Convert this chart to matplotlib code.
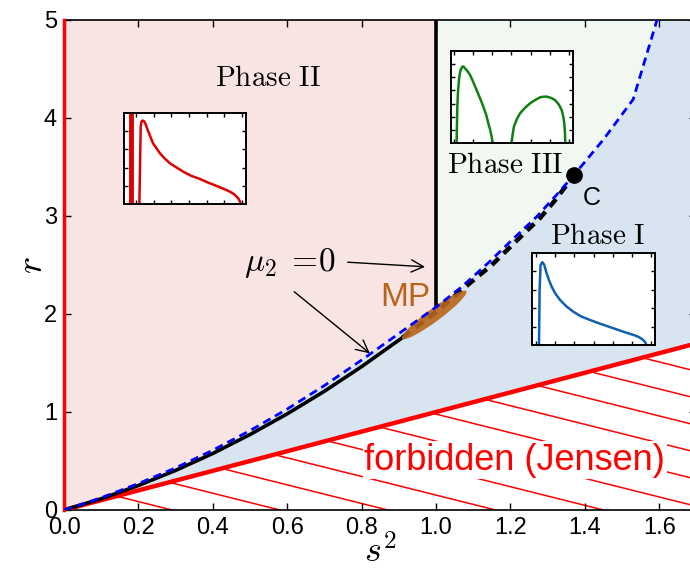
import numpy as np
import matplotlib
matplotlib.use('Agg')
import matplotlib.pyplot as plt
from matplotlib.patches import Ellipse, Polygon
from matplotlib.transforms import ScaledTranslation

plt.rcParams['font.family'] = ['Liberation Sans', 'DejaVu Sans']
plt.rcParams['mathtext.fontset'] = 'cm'

# ---------------- data ----------------
# blue dashed boundary (upper)
blue_x = np.array([0.0, 0.1, 0.2, 0.3, 0.4, 0.5, 0.6, 0.7, 0.8, 0.9, 1.0, 1.07, 1.14, 1.2,
                   1.27, 1.33, 1.38, 1.45, 1.53, 1.594])
blue_y = np.array([0.0, 0.125, 0.27, 0.43, 0.61, 0.81, 1.03, 1.27, 1.53, 1.8, 2.07, 2.28, 2.52, 2.74,
                   2.99, 3.24, 3.46, 3.78, 4.19, 5.0])
# black mu2=0 curve, solid part and dashed part
black_solid_x = [0.0, 0.1, 0.2, 0.3, 0.4, 0.5, 0.6, 0.7, 0.8, 0.91]
black_solid_y = [0.0, 0.115, 0.25, 0.404, 0.577, 0.77, 0.981, 1.212, 1.463, 1.76]
black_dash_x = [0.91, 1.0, 1.08, 1.15, 1.22, 1.28, 1.32, 1.36]
black_dash_y = [1.76, 2.02, 2.28, 2.5, 2.76, 2.98, 3.16, 3.36]
# vertical boundary at s^2 = 1
vert_x = [1.0, 1.0]
vert_y = [2.07, 5.0]
# Jensen bound r = s^2
jensen_x = [0.0, 1.7]
jensen_y = [0.0, 1.7]
# critical point C
c_point = (1.37, 3.42)
# MP ellipse
mp_center = (0.995, 1.99)

# insets (normalized inset coordinates)
ph2_spike_x = 0.055
ph2_x = [0.126, 0.137, 0.142, 0.15, 0.16, 0.172, 0.2, 0.238, 0.295, 0.33, 0.377, 0.42, 0.486, 0.55,
         0.623, 0.69, 0.76, 0.82, 0.869, 0.9, 0.924, 0.94, 0.951, 0.956]
ph2_y = [0.0, 0.85, 0.90, 0.916, 0.915, 0.894, 0.795, 0.667, 0.557, 0.505, 0.447, 0.41, 0.355, 0.31,
         0.275, 0.235, 0.198, 0.165, 0.135, 0.11, 0.08, 0.055, 0.026, 0.0]

ph1_x = [0.057, 0.062, 0.07, 0.084, 0.1, 0.119, 0.14, 0.16, 0.19, 0.228, 0.28, 0.336, 0.4, 0.472,
         0.54, 0.607, 0.675, 0.742, 0.8, 0.851, 0.88, 0.905, 0.922, 0.932]
ph1_y = [0.0, 0.6, 0.87, 0.9, 0.87, 0.78, 0.70, 0.634, 0.56, 0.49, 0.42, 0.362, 0.31, 0.272,
         0.238, 0.207, 0.176, 0.145, 0.12, 0.098, 0.078, 0.054, 0.03, 0.0]

ph3a_x = [0.046, 0.052, 0.058, 0.068, 0.078, 0.093, 0.104, 0.115, 0.13, 0.156, 0.18, 0.21, 0.24,
          0.265, 0.29, 0.306, 0.322, 0.333, 0.341]
ph3a_y = [0.0, 0.395, 0.57, 0.72, 0.79, 0.83, 0.83, 0.81, 0.79, 0.74, 0.67, 0.576, 0.48,
          0.395, 0.3, 0.214, 0.14, 0.069, 0.0]
ph3b_x = [0.497, 0.505, 0.516, 0.54, 0.566, 0.605, 0.648, 0.69, 0.73, 0.757, 0.784, 0.82, 0.852,
          0.883, 0.907, 0.92, 0.929, 0.934, 0.937]
ph3b_y = [0.0, 0.09, 0.178, 0.26, 0.322, 0.38, 0.431, 0.467, 0.496, 0.503, 0.504, 0.49, 0.467,
          0.42, 0.359, 0.29, 0.214, 0.12, 0.0]

x_ticks = [0.0, 0.2, 0.4, 0.6, 0.8, 1.0, 1.2, 1.4, 1.6]
x_ticklabels = ['0.0', '0.2', '0.4', '0.6', '0.8', '1.0', '1.2', '1.4', '1.6']
y_ticks = [0, 1, 2, 3, 4, 5]
y_ticklabels = ['0', '1', '2', '3', '4', '5']

# ---------------- figure ----------------
fig = plt.figure(figsize=(6.9, 5.74), dpi=100)
ax = fig.add_axes([0.0928, 0.1115, 0.9165, 0.8537])
ax.set_xlim(0, 1.7)
ax.set_ylim(0, 5)

pink = '#f9e4e4'
green = '#f1f8f1'
lblue = '#d8e5f1'

m1 = blue_x <= 1.0
ax.fill_between(blue_x[m1], blue_y[m1], 5, color=pink, lw=0, zorder=0)
m2 = blue_x >= 1.0
gx = np.concatenate([blue_x[m2], [1.0]])
gy = np.concatenate([blue_y[m2], [5.0]])
ax.fill(gx, gy, color=green, lw=0, zorder=0)
px = np.concatenate([[jensen_x[1], jensen_x[1]], blue_x[::-1]])
py = np.concatenate([[jensen_y[1], 5.0], blue_y[::-1]])
ax.fill(px, py, color=lblue, lw=0, zorder=0)

# hatching of forbidden region
tri = Polygon([(0, 0), (1.7, 1.7), (1.7, 0)], closed=True, transform=ax.transData,
              facecolor='none', edgecolor='none')
ax.add_patch(tri)
for c in np.arange(0.29, 3.8, 0.29):
    ln, = ax.plot([0, 4], [0.95 * c, 0.95 * (c - 4)], color='red', lw=1.1, zorder=1)
    ln.set_clip_path(tri)

ax.plot(jensen_x, jensen_y, color='red', lw=3.2, zorder=3)
ax.plot([0, 0], [0, 5], color='red', lw=2.5, zorder=3, clip_on=False)

ax.plot(black_solid_x, black_solid_y, color='black', lw=2.6, zorder=4)
ax.plot(black_dash_x, black_dash_y, color='black', lw=3.2, ls=(0, (2.2, 1.5)), zorder=4)
ax.plot(vert_x, vert_y, color='black', lw=2.6, zorder=4)
ax.plot(blue_x, blue_y, color='blue', lw=2.0, ls=(0, (3.0, 1.9)), zorder=5)

mp_col = '#b8651b'
ell = Ellipse((0, 0), 0.80, 0.13, angle=36.5, facecolor=mp_col, edgecolor='none', alpha=0.9,
              transform=fig.dpi_scale_trans + ScaledTranslation(mp_center[0], mp_center[1], ax.transData),
              zorder=4.5)
ax.add_patch(ell)

ax.plot([c_point[0]], [c_point[1]], 'o', color='black', ms=11, zorder=6)

# texts
ax.text(0.548, 4.41, r'$\mathrm{Phase\ II}$', fontsize=21, ha='center', va='center')
ax.text(1.186, 3.52, r'$\mathrm{Phase\ III}$', fontsize=21, ha='center', va='center', zorder=7)
ax.text(1.435, 2.80, r'$\mathrm{Phase\ I}$', fontsize=21, ha='center', va='center')
ax.text(1.419, 3.18, 'C', fontsize=18, ha='center', va='center')
ax.text(0.917, 2.17, 'MP', fontsize=24, ha='center', va='center', color=mp_col)
ax.text(1.212, 0.51, 'forbidden (Jensen)', fontsize=26, ha='center', va='center', color='red',
        bbox=dict(facecolor='white', edgecolor='none', pad=1), zorder=6)
ax.text(0.608, 2.52, r'$\mu_2\;{=}\!0$', fontsize=24, ha='center', va='center')
ax.annotate('', xy=(0.978, 2.48), xytext=(0.755, 2.53),
            arrowprops=dict(arrowstyle='->', lw=1.0, color='black', mutation_scale=22))
ax.annotate('', xy=(0.828, 1.58), xytext=(0.613, 2.245),
            arrowprops=dict(arrowstyle='->', lw=1.0, color='black', mutation_scale=22))

ax.set_xticks(x_ticks)
ax.set_xticklabels(x_ticklabels)
ax.set_yticks(y_ticks)
ax.set_yticklabels(y_ticklabels)
ax.tick_params(direction='in', top=True, right=True, length=5, width=1, labelsize=17, pad=5)
for s in ax.spines.values():
    s.set_linewidth(1.2)
ax.set_xlabel(r'$s^2$', fontsize=26, labelpad=-2.5)
ax.set_ylabel(r'$r$', fontsize=26, labelpad=-4)


def inset(rect, xticks, yticks):
    a = fig.add_axes(rect)
    a.set_xlim(0, 1)
    a.set_ylim(0, 1)
    a.set_xticks(xticks)
    a.set_yticks(yticks)
    a.tick_params(direction='in', top=True, right=True, length=3, width=1,
                  labelbottom=False, labelleft=False)
    for s in a.spines.values():
        s.set_linewidth(1.4)
    return a


a2 = inset([0.1797, 0.6446, 0.1768, 0.1585],
           [0.098 + 0.145 * k for k in range(7)], [0.2, 0.4, 0.6, 0.8])
a2.plot([ph2_spike_x, ph2_spike_x], [0, 1], color='#dd0000', lw=3.5)
a2.plot(ph2_x, ph2_y, color='#dd0000', lw=1.8)

a3 = inset([0.6536, 0.7509, 0.1768, 0.1603],
           [0.025 + 0.157 * k for k in range(7)], [k / 7 for k in range(1, 7)])
a3.plot(ph3a_x, ph3a_y, color='#108010', lw=1.8)
a3.plot(ph3b_x, ph3b_y, color='#108010', lw=1.8)

a1 = inset([0.771, 0.399, 0.178, 0.1603],
           [0.03 + 0.157 * k for k in range(7)], [0.2, 0.4, 0.6, 0.8])
a1.plot(ph1_x, ph1_y, color='#1060b0', lw=1.8)

fig.savefig('out.png', dpi=100)
